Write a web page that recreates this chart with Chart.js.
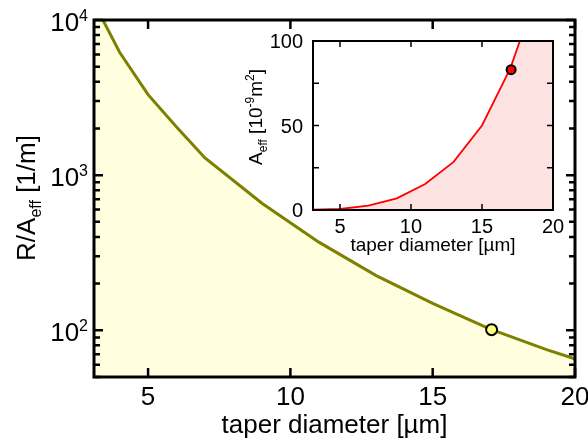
<!DOCTYPE html>
<html>
<head>
<meta charset="utf-8">
<script src="https://cdn.jsdelivr.net/npm/chart.js@4.4.1/dist/chart.umd.min.js"></script>
<style>
  body { margin: 0; background: #fff; }
  #wrap { position: relative; width: 588px; height: 442px; }
  #wrap canvas { position: absolute; left: 0; top: 0; }
  #insetChart { pointer-events: none; }
</style>
</head>
<body>
<div id="wrap">
  <canvas id="mainChart" width="588" height="442"></canvas>
  <canvas id="insetChart" width="588" height="442"></canvas>
</div>
<script>
// main plot: R/A_eff vs taper diameter (log y)
var diam = [3, 4, 5, 6, 7, 9, 11, 13, 15, 17, 19, 21];
var rOverA = [14000, 6200, 3300, 2040, 1290, 659, 370, 226, 149, 102, 75, 57];
var markDiam = [17.07];
var markRA = [101];
var xTicks = [5, 10, 15, 20];
var yDecades = [100, 1000, 10000];
var yExp = ['2', '3', '4'];

// inset: A_eff vs taper diameter
var insetDiam = [3, 5, 7, 9, 11, 13, 15, 17, 19, 21];
var aEff = [0.2, 0.6, 2.6, 6.9, 15.4, 28.5, 50, 84, 132, 190];
var insetMarkDiam = [17.05];
var insetMarkA = [83];
var insetYTicks = [0, 25, 50, 75, 100];
var insetYLabels = ['0', '', '50', '', '100'];

var FONT = '"Liberation Sans", Arial, sans-serif';

function pts(xs, ys) {
    return xs.map(function (x, i) { return { x: x, y: ys[i] }; });
}

// draws a run of text pieces (for sub/superscripts) on one baseline
function drawParts(ctx, parts, x, y, align) {
    var w = 0;
    parts.forEach(function (p) {
        ctx.font = p[1] + 'px ' + FONT;
        w += ctx.measureText(p[0]).width;
    });
    var cx = align === 'right' ? x - w : (align === 'center' ? x - w / 2 : x);
    ctx.textAlign = 'left';
    ctx.textBaseline = 'alphabetic';
    parts.forEach(function (p) {
        ctx.font = p[1] + 'px ' + FONT;
        ctx.fillText(p[0], cx, y + p[2]);
        cx += ctx.measureText(p[0]).width;
    });
}

var mainFrame = {
    id: 'mainFrame',
    afterDraw: function (chart) {
        var ctx = chart.ctx, a = chart.chartArea;
        var xs = chart.scales.x, ys = chart.scales.y;
        ctx.save();
        ctx.strokeStyle = '#000';
        ctx.fillStyle = '#000';
        ctx.lineWidth = 2.5;
        ctx.beginPath();
        // x ticks top and bottom
        xTicks.forEach(function (v) {
            var px = xs.getPixelForValue(v);
            ctx.moveTo(px, a.bottom); ctx.lineTo(px, a.bottom - 9);
            ctx.moveTo(px, a.top); ctx.lineTo(px, a.top + 9);
        });
        // y ticks (log: majors at decades, minors between)
        for (var n = 1; n <= 4; n++) {
            for (var k = 1; k <= 9; k++) {
                var v = k * Math.pow(10, n);
                if (v < ys.min || v > ys.max) continue;
                var py = ys.getPixelForValue(v);
                var len = k === 1 ? 9 : 6;
                ctx.moveTo(a.left, py); ctx.lineTo(a.left + len, py);
                ctx.moveTo(a.right, py); ctx.lineTo(a.right - len, py);
            }
        }
        ctx.stroke();
        ctx.lineWidth = 3;
        ctx.strokeRect(a.left, a.top, a.right - a.left, a.bottom - a.top);

        // tick labels
        xTicks.forEach(function (v) {
            drawParts(ctx, [[String(v), 26, 0]], xs.getPixelForValue(v), 405, 'center');
        });
        yDecades.forEach(function (v, i) {
            var py = ys.getPixelForValue(v);
            drawParts(ctx, [['10', 26, 0], [yExp[i], 16, -10]], 88, py + 11, 'right');
        });

        // axis titles
        drawParts(ctx, [['taper diameter [\u00b5m]', 26, 0]], (a.left + a.right) / 2, 433, 'center');
        ctx.save();
        ctx.translate(35, 198);
        ctx.rotate(-Math.PI / 2);
        drawParts(ctx, [['R/A', 26, 0], ['eff', 16, 6], [' [1/m]', 26, 0]], 0, 0, 'center');
        ctx.restore();
        ctx.restore();
    }
};

var insetFrame = {
    id: 'insetFrame',
    afterDraw: function (chart) {
        var ctx = chart.ctx, a = chart.chartArea;
        var xs = chart.scales.x, ys = chart.scales.y;
        ctx.save();
        ctx.strokeStyle = '#000';
        ctx.fillStyle = '#000';
        ctx.lineWidth = 1.5;
        ctx.beginPath();
        xTicks.forEach(function (v) {
            var px = xs.getPixelForValue(v);
            ctx.moveTo(px, a.bottom); ctx.lineTo(px, a.bottom - 6);
            ctx.moveTo(px, a.top); ctx.lineTo(px, a.top + 6);
        });
        insetYTicks.forEach(function (v) {
            var py = ys.getPixelForValue(v);
            ctx.moveTo(a.left, py); ctx.lineTo(a.left + 6, py);
            ctx.moveTo(a.right, py); ctx.lineTo(a.right - 6, py);
        });
        ctx.stroke();
        ctx.lineWidth = 2;
        ctx.strokeRect(a.left, a.top, a.right - a.left, a.bottom - a.top);

        xTicks.forEach(function (v) {
            drawParts(ctx, [[String(v), 20, 0]], xs.getPixelForValue(v), 233, 'center');
        });
        insetYTicks.forEach(function (v, i) {
            if (!insetYLabels[i]) return;
            drawParts(ctx, [[insetYLabels[i], 20, 0]], a.left - 10, ys.getPixelForValue(v) + 7, 'right');
        });
        drawParts(ctx, [['taper diameter [\u00b5m]', 19, 0]], (a.left + a.right) / 2, 251, 'center');
        ctx.save();
        ctx.translate(262, 117);
        ctx.rotate(-Math.PI / 2);
        drawParts(ctx, [['A', 19, 0], ['eff', 12, 5], [' [10', 19, 0], ['-9', 12, -8],
                        ['m', 19, 0], ['2', 12, -8], [']', 19, 0]], 0, 0, 'center');
        ctx.restore();
        ctx.restore();
    }
};

new Chart(document.getElementById('mainChart'), {
    type: 'line',
    data: {
        datasets: [{
            data: pts(diam, rOverA),
            borderColor: '#7f7f00',
            borderWidth: 3,
            backgroundColor: '#ffffe0',
            fill: 'start',
            pointRadius: 0,
            tension: 0,
            order: 2
        }, {
            data: pts(markDiam, markRA),
            showLine: false,
            fill: false,
            pointStyle: 'circle',
            pointRadius: 5.5,
            backgroundColor: '#ffff80',
            borderColor: '#000',
            pointBackgroundColor: '#ffff80',
            pointBorderColor: '#000',
            pointBorderWidth: 2,
            order: 1
        }]
    },
    options: {
        responsive: false,
        animation: false,
        devicePixelRatio: 1,
        layout: { padding: { left: 94, top: 20, right: 13, bottom: 65 } },
        scales: {
            x: { type: 'linear', min: 3.1, max: 20, display: false },
            y: { type: 'logarithmic', min: 50, max: 10000, display: false }
        },
        plugins: { legend: { display: false }, tooltip: { enabled: false } }
    },
    plugins: [mainFrame]
});

new Chart(document.getElementById('insetChart'), {
    type: 'line',
    data: {
        datasets: [{
            data: pts(insetDiam, aEff),
            borderColor: '#ff0000',
            borderWidth: 1.8,
            backgroundColor: '#fde2e2',
            fill: 'start',
            pointRadius: 0,
            tension: 0,
            order: 2
        }, {
            data: pts(insetMarkDiam, insetMarkA),
            showLine: false,
            fill: false,
            pointStyle: 'circle',
            pointRadius: 4.5,
            backgroundColor: '#ff0000',
            borderColor: '#000',
            pointBackgroundColor: '#ff0000',
            pointBorderColor: '#000',
            pointBorderWidth: 2,
            order: 1
        }]
    },
    options: {
        responsive: false,
        animation: false,
        devicePixelRatio: 1,
        layout: { padding: { left: 313, top: 41, right: 35, bottom: 232 } },
        scales: {
            x: { type: 'linear', min: 3.1, max: 20, display: false },
            y: { type: 'linear', min: 0, max: 100, display: false }
        },
        plugins: { legend: { display: false }, tooltip: { enabled: false } }
    },
    plugins: [insetFrame]
});
</script>
</body>
</html>
